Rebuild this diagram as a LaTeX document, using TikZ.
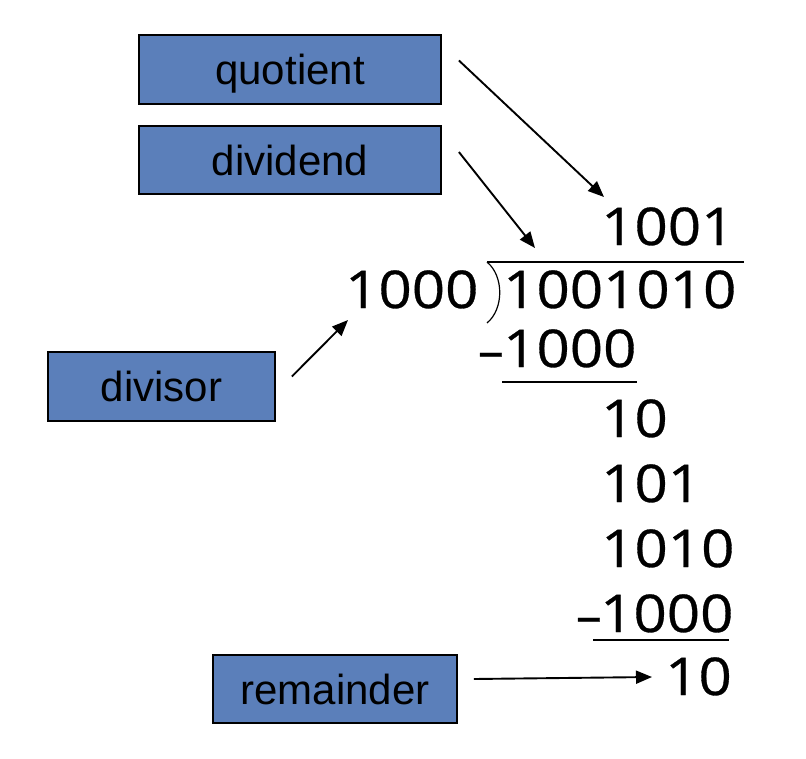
\documentclass[tikz,border=0pt]{standalone}
\usepackage{fontspec}
\setmainfont{Liberation Sans}
\newfontfamily\numfont[FakeStretch=1.12,FakeBold=0.6]{Open Sans}
\usepackage{tikz}
\usetikzlibrary{arrows.meta}
\definecolor{boxblue}{RGB}{91,127,186}
\tikzset{
  namebox/.style = {draw=black,line width=1.8pt,fill=boxblue,inner sep=0pt,
                    text height=30pt,text depth=0pt,
                    font=\fontsize{42}{50}\selectfont},
  numtext/.style = {inner sep=0pt,anchor=base west,
                    font=\numfont\fontsize{52}{60}\selectfont},
  minustext/.style = {inner sep=0pt,anchor=base east,
                    font=\numfont\fontsize{46}{54}\selectfont},
  ptr/.style      = {-{Triangle[length=16pt,width=13pt]},line width=1.9pt},
  rule/.style     = {line width=1.9pt}
}

\begin{document}
\begin{tikzpicture}[x=1pt,y=-1pt]
  \useasboundingbox (0,0) rectangle (806,758);
  \node[namebox,minimum width=302pt,minimum height=69pt] (quot) at (290,69.5)  {quotient};
  \node[namebox,minimum width=302pt,minimum height=68pt] (divd) at (290,160)   {dividend};
  \node[namebox,minimum width=227pt,minimum height=69pt] (divs) at (161.5,386.5) {divisor};
  \node[namebox,minimum width=244pt,minimum height=68pt] (rem)  at (335,689)   {remainder};

  \node[numtext] (qnum) at (601,245) {1001};
  \node[numtext] (vnum) at (345,308) {1000};
  \node[numtext] (dnum) at (503,308) {1001010};
  \node[numtext] (sub1) at (503,367) {1000};
  \node[minustext] (min1) at (504,367) {–};
  \node[numtext] (row1) at (601,437) {10};
  \node[numtext] (row2) at (601,502) {101};
  \node[numtext] (row3) at (601,567) {1010};
  \node[numtext] (sub2) at (600,632) {1000};
  \node[minustext] (min2) at (602,632) {–};
  \node[numtext] (rnum) at (665,695) {10};

  \coordinate (bartop) at (487,262);
  \coordinate (barbot) at (487,323);
  \coordinate (barend) at (744,262);
  \draw[rule] (bartop) -- (barend);
  \draw[line width=1.2pt] (bartop) .. controls (504,276) and (504,309) .. (barbot);
  \draw[rule] (502,382) -- (637,382);
  \draw[rule] (593,640) -- (729,640);

  \coordinate (qtip) at (604,197);
  \coordinate (dtip) at (535,248);
  \coordinate (vtip) at (348,320);
  \coordinate (rtip) at (652,677);
  \draw[ptr] ([xshift=17pt,yshift=9pt]quot.east) -- (qtip);
  \draw[ptr] ([xshift=17pt,yshift=8pt]divd.east) -- (dtip);
  \draw[ptr] ([xshift=16pt,yshift=10pt]divs.east) -- (vtip);
  \draw[ptr] ([xshift=16pt,yshift=10pt]rem.east) -- (rtip);
\end{tikzpicture}
\end{document}
